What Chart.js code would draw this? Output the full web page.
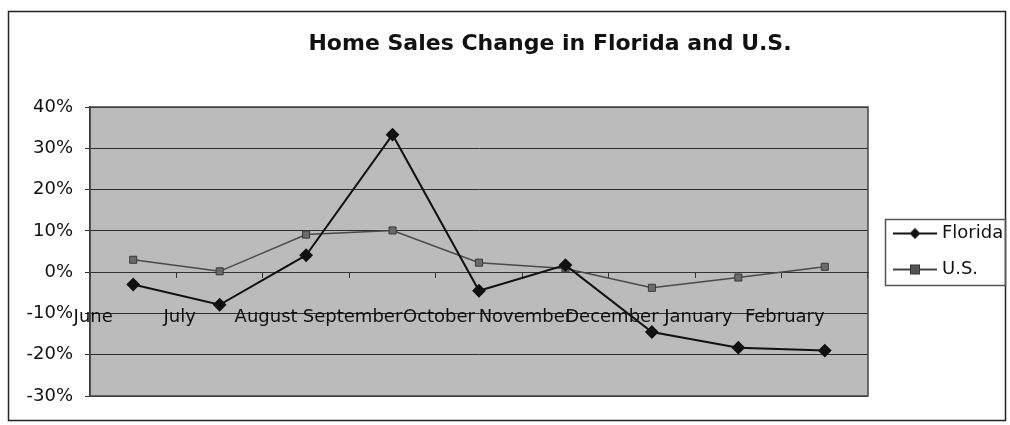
<!DOCTYPE html>
<html>
<head>
<meta charset="utf-8">
<script src="https://cdn.jsdelivr.net/npm/chart.js@4"></script>
<style>
    html, body { margin: 0; padding: 0; background: #fff; }
    #wrap { width: 1010px; height: 425px; }
</style>
</head>
<body>
<div id="wrap"><canvas id="homeSalesChart" width="1010" height="425"></canvas></div>
<script>
// Données (variation en %)
const months = ['June', 'July', 'August', 'September', 'October', 'November', 'December', 'January', 'February'];
const floridaValues = [-3.0, -7.9, 4.1, 33.3, -4.5, 1.7, -14.5, -18.3, -19.0];
const usValues = [3.0, 0.2, 9.1, 10.1, 2.3, 0.9, -3.8, -1.3, 1.3];
const yMin = -30;
const yMax = 40;
const yStep = 10;
const chartTitle = 'Home Sales Change in Florida and U.S.';

Chart.defaults.font.family = '"DejaVu Sans", sans-serif';
Chart.defaults.color = '#111';

// Petite image "ligne + marqueur" pour la légende (marge transparente à gauche)
function legendMarker(kind) {
    const c = document.createElement('canvas');
    c.width = 55;
    c.height = 14;
    const g = c.getContext('2d');
    g.strokeStyle = kind === 'diamond' ? '#111' : '#444';
    g.lineWidth = 2;
    g.beginPath();
    g.moveTo(11, 7);
    g.lineTo(55, 7);
    g.stroke();
    if (kind === 'diamond') {
        g.fillStyle = '#111';
        g.beginPath();
        g.moveTo(33, 1.5);
        g.lineTo(38.5, 7);
        g.lineTo(33, 12.5);
        g.lineTo(27.5, 7);
        g.closePath();
        g.fill();
    } else {
        g.fillStyle = '#555';
        g.fillRect(28.5, 2.5, 9, 9);
        g.strokeStyle = '#333';
        g.lineWidth = 1;
        g.strokeRect(28.5, 2.5, 9, 9);
    }
    return c;
}
const legendImages = [legendMarker('diamond'), legendMarker('square')];

// Fond gris de la zone de tracé, cadre, titre et bordure de la légende
const decorPlugin = {
    id: 'decor',
    beforeDraw(chart) {
        const { ctx, chartArea: a } = chart;
        ctx.save();
        ctx.fillStyle = '#fff';
        ctx.fillRect(0, 0, chart.width, chart.height);
        ctx.fillStyle = '#bbbbbb';
        ctx.fillRect(a.left, a.top, a.right - a.left, a.bottom - a.top);
        ctx.restore();
    },
    afterDraw(chart) {
        const { ctx, chartArea: a } = chart;
        ctx.save();
        ctx.strokeStyle = '#444';
        ctx.lineWidth = 1.5;
        ctx.strokeRect(a.left, a.top, a.right - a.left, a.bottom - a.top);

        ctx.strokeStyle = '#222';
        ctx.lineWidth = 1.5;
        ctx.strokeRect(8.5, 11.5, 997, 409);

        ctx.fillStyle = '#111';
        ctx.font = 'bold 22px "DejaVu Sans", sans-serif';
        ctx.textAlign = 'center';
        ctx.textBaseline = 'middle';
        ctx.fillText(chartTitle, 550, 44);

        const boxes = chart.legend.legendHitBoxes;
        if (boxes && boxes.length) {
            const first = boxes[0];
            const last = boxes[boxes.length - 1];
            const top = Math.round(first.top + first.height / 2 - 15) + 0.5;
            const bottom = Math.round(last.top + last.height / 2 + 15) + 0.5;
            ctx.strokeStyle = '#555';
            ctx.lineWidth = 1.5;
            ctx.strokeRect(885.5, top, 120, bottom - top);
        }
        ctx.restore();
    }
};

const ctx = document.getElementById('homeSalesChart').getContext('2d');
new Chart(ctx, {
    type: 'line',
    data: {
        labels: months,
        datasets: [{
            label: 'Florida',
            data: floridaValues,
            borderColor: '#111',
            backgroundColor: '#111',
            borderWidth: 2,
            pointStyle: 'rectRot',
            pointRadius: 5.5,
            pointBackgroundColor: '#111',
            pointBorderColor: '#111',
            tension: 0
        }, {
            label: 'U.S.',
            data: usValues,
            borderColor: '#4a4a4a',
            backgroundColor: '#555',
            borderWidth: 1.5,
            pointStyle: 'rect',
            pointRadius: 5,
            pointBackgroundColor: '#6a6a6a',
            pointBorderColor: '#3a3a3a',
            pointBorderWidth: 1,
            tension: 0
        }]
    },
    options: {
        responsive: false,
        animation: false,
        layout: {
            padding: { top: 107, bottom: 29, left: 0, right: 0 }
        },
        plugins: {
            title: { display: false },
            tooltip: { enabled: false },
            legend: {
                position: 'right',
                maxWidth: 142,
                labels: {
                    usePointStyle: true,
                    pointStyleWidth: 47,
                    padding: 18,
                    color: '#111',
                    font: { size: 18 },
                    generateLabels(chart) {
                        const items = Chart.defaults.plugins.legend.labels.generateLabels(chart);
                        items.forEach((item, i) => { item.pointStyle = legendImages[i]; });
                        return items;
                    }
                }
            }
        },
        scales: {
            x: {
                position: { y: 0 },
                offset: true,
                grid: {
                    offset: true,
                    drawOnChartArea: false,
                    tickLength: 5,
                    color: '#333'
                },
                border: { color: '#333' },
                ticks: {
                    autoSkip: false,
                    maxRotation: 0,
                    minRotation: 0,
                    padding: 29,
                    labelOffset: -40,
                    color: '#111',
                    font: { size: 18 }
                }
            },
            y: {
                min: yMin,
                max: yMax,
                afterFit(scale) { scale.width = 90; },
                grid: {
                    color: '#2e2e2e',
                    lineWidth: 1,
                    tickLength: 5
                },
                border: { color: '#333', width: 1.5 },
                ticks: {
                    stepSize: yStep,
                    padding: 12,
                    color: '#111',
                    font: { size: 18 },
                    callback: (v) => Math.round(v) + '%'
                }
            }
        }
    },
    plugins: [decorPlugin]
});
</script>
</body>
</html>
